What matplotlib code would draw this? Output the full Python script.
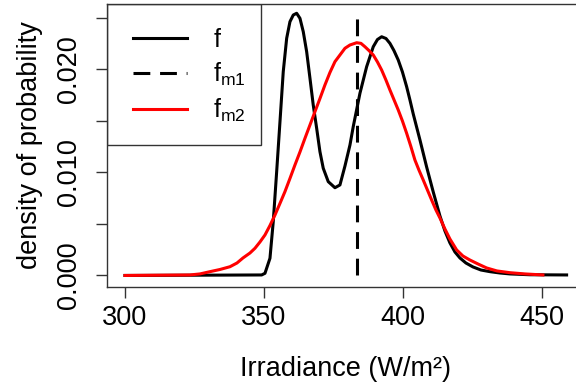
import matplotlib
matplotlib.use("Agg")
import matplotlib.pyplot as plt
from matplotlib.patches import Rectangle

plt.rcParams['font.family'] = ['Liberation Sans', 'DejaVu Sans']
plt.rcParams['mathtext.fontset'] = 'custom'
plt.rcParams['mathtext.rm'] = 'Liberation Sans'
plt.rcParams['mathtext.default'] = 'regular'

# density f
f_x = [300, 349.17, 350.36, 352.16, 353.34, 354.57, 355.76, 356.94, 358.17, 359.35,
       360.54, 361.76, 362.95, 364.14, 365.36, 366.55, 367.73, 368.96, 370.14,
       371.33, 373.13, 375.54, 377.34, 379.14, 380.94, 382.12, 384.53, 386.94,
       389.32, 390.83, 392.34, 393.9, 395.32, 396.76, 398.31, 399.82, 401.33,
       402.52, 403.71, 406.12, 408.53, 410.9, 413.31, 415.11, 416.91, 418.71,
       420.5, 422.66, 425.18, 428.06, 431.3, 434.89, 438.49, 445.68, 458.88]
f_y = [0.0, 0.00005, 0.00021, 0.00167, 0.00522, 0.01008, 0.01493, 0.01979, 0.02303,
       0.02464, 0.02529, 0.02546, 0.02497, 0.02367, 0.02173, 0.01915, 0.01655,
       0.01429, 0.01202, 0.01041, 0.00911, 0.00852, 0.00879, 0.01063, 0.01267,
       0.01445, 0.01769, 0.02027, 0.02221, 0.02291, 0.02318, 0.02301, 0.02254,
       0.02184, 0.02092, 0.01976, 0.01833, 0.01704, 0.01568, 0.01316, 0.01053,
       0.00811, 0.00578, 0.00432, 0.00316, 0.00228, 0.0017, 0.00121, 0.00083,
       0.00053, 0.00037, 0.00024, 0.00015, 0.00007, 0.00005]

# f_m1 : vertical dashed line at the mean
fm1_x = 383.3
fm1_top = 0.0258

# f_m2 density
fm2_x = [300, 323.38, 326.98, 330.58, 334.17, 337.77, 340.29, 342.45, 344.96, 346.76,
         348.56, 350.36, 352.16, 353.96, 355.75, 357.55, 359.35, 361.15, 362.95,
         364.75, 366.55, 368.34, 370.14, 371.94, 373.74, 375.54, 377.34, 379.14,
         380.94, 383.35, 384.89, 386.33, 387.77, 389.32, 390.83, 392.34, 393.88,
         395.32, 398.31, 399.82, 401.33, 402.8, 404.31, 405.75, 407.3, 408.81,
         410.32, 411.87, 413.31, 415.11, 416.91, 419.32, 421.58, 424.1, 426.97,
         430.11, 433.81, 438.49, 443.88, 450.36]
fm2_y = [0.0, 0.00005, 0.00015, 0.00037, 0.00058, 0.00085, 0.00121, 0.0017, 0.00218,
         0.00264, 0.00325, 0.00393, 0.00485, 0.00587, 0.00699, 0.00814, 0.00942,
         0.01073, 0.01199, 0.01332, 0.01461, 0.0159, 0.01718, 0.0185, 0.01971,
         0.02076, 0.02141, 0.02206, 0.02238, 0.0226, 0.02254, 0.02221, 0.02184,
         0.02141, 0.02073, 0.01995, 0.01898, 0.01801, 0.01607, 0.015, 0.01381,
         0.01257, 0.01121, 0.01024, 0.00927, 0.0083, 0.00733, 0.00636, 0.00558,
         0.00451, 0.00354, 0.00248, 0.00189, 0.0015, 0.00112, 0.00073, 0.00044,
         0.00027, 0.00015, 0.00005]

xticks = [300, 350, 400, 450]
yticks = [0.0, 0.005, 0.010, 0.015, 0.020, 0.025]
ylabels = ['0.000', '', '0.010', '', '0.020', '']

fig = plt.figure(figsize=(5.76, 3.85), dpi=100)
ax = fig.add_axes([107/576, 98/385, 478/576, 283/385])

ax.plot(f_x, f_y, color='black', lw=2.2, label='f')
ax.plot([fm1_x, fm1_x], [0, fm1_top], color='black', lw=2.2,
        dashes=(5.5, 3.2), label='$f_{m1}$')
ax.plot(fm2_x, fm2_y, color='red', lw=2.2, label='$f_{m2}$')

ax.set_xlim(293.53, 465.5)
ax.set_ylim(-0.00112, 0.02636)
ax.set_xticks(xticks)
ax.set_yticks(yticks)
ax.set_yticklabels(ylabels, rotation=90, va='center')

for s in ax.spines.values():
    s.set_color('#333333')
    s.set_linewidth(1.0)
ax.tick_params(direction='out', length=8, width=1, color='#333333',
               labelsize=19.5)
ax.tick_params(axis='x', pad=5)
ax.tick_params(axis='y', pad=10)

ax.set_xlabel('Irradiance (W/m²)', fontsize=19.5, labelpad=18)
ax.set_ylabel('density of probability', fontsize=19.5, labelpad=9.5)

# legend without its own frame, R-style box drawn separately
leg = ax.legend(loc='upper left', bbox_to_anchor=(0.005, 1), borderaxespad=0,
                fontsize=18, handlelength=2.15, handletextpad=1.05,
                borderpad=0.95, labelspacing=0.36, frameon=False)
box = Rectangle((0, 0.502), 0.322, 0.498, transform=ax.transAxes,
                fill=False, edgecolor='#333333', lw=1.0, zorder=5)
ax.add_patch(box)

fig.savefig('out.png', dpi=100)
